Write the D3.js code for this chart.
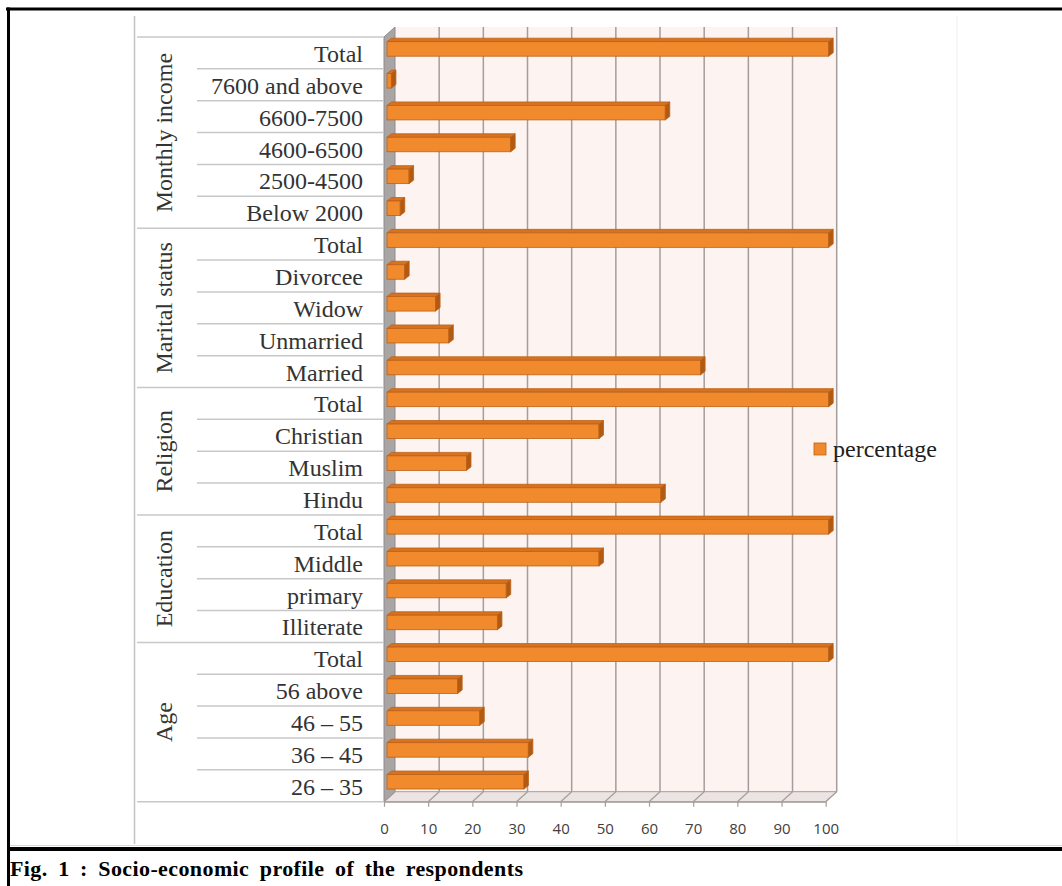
<!DOCTYPE html>
<html>
<head>
<meta charset="utf-8">
<script src="https://cdn.jsdelivr.net/npm/d3@7"></script>
<style>
  html, body { margin: 0; padding: 0; background: #fff; }
  svg { display: block; }
</style>
</head>
<body>
<svg id="chart" width="1062" height="886"></svg>
<script>
// ---------------- data ----------------
const groupNames = ["Monthly income", "Marital status", "Religion", "Education", "Age"];
const incomeLabels = ["Total", "7600 and above", "6600-7500", "4600-6500", "2500-4500", "Below 2000"];
const incomeValues = [100, 1, 63, 28, 5, 3];
const maritalLabels = ["Total", "Divorcee", "Widow", "Unmarried", "Married"];
const maritalValues = [100, 4, 11, 14, 71];
const religionLabels = ["Total", "Christian", "Muslim", "Hindu"];
const religionValues = [100, 48, 18, 62];
const educationLabels = ["Total", "Middle", "primary", "Illiterate"];
const educationValues = [100, 48, 27, 25];
const ageLabels = ["Total", "56 above", "46 \u2013 55", "36 \u2013 45", "26 \u2013 35"];
const ageValues = [100, 16, 21, 32, 31];
const xTicks = [0, 10, 20, 30, 40, 50, 60, 70, 80, 90, 100];
const seriesName = "percentage";
const captionText = "Fig. 1 : Socio-economic profile of the respondents";

const groupLabels = [incomeLabels, maritalLabels, religionLabels, educationLabels, ageLabels];
const groupValues = [incomeValues, maritalValues, religionValues, educationValues, ageValues];

// flat rows (top to bottom)
const rows = [];
groupNames.forEach((g, gi) => {
  groupLabels[gi].forEach((lab, i) => {
    rows.push({ key: g + "|" + lab, group: g, gi, label: lab, value: groupValues[gi][i], first: i === 0, last: i === groupLabels[gi].length - 1 });
  });
});

// ---------------- layout ----------------
const svg = d3.select("#chart");
const W = 1062, H = 886;

const x = d3.scaleLinear().domain([0, 100]).range([384, 825.7]);
const y = d3.scaleBand().domain(rows.map(r => r.key)).range([37, 801.7]).padding(0);
const depthX = 11, depthY = -10;     // 3D depth offset of the back wall
const yTop = 37, yBot = 801.7;

const orange = "#F08A2C", orangeTop = "#D8721E", orangeCap = "#B25A12", orangeStroke = "#BC6118";
const grid = "#A39D9B";

// ---------------- frame ----------------
svg.append("line").attr("x1", 6).attr("x2", W).attr("y1", 9).attr("y2", 9)
  .attr("stroke", "#000").attr("stroke-width", 3);
svg.append("line").attr("x1", 8.5).attr("x2", 8.5).attr("y1", 7.5).attr("y2", H)
  .attr("stroke", "#000").attr("stroke-width", 3);
svg.append("line").attr("x1", 10).attr("x2", W).attr("y1", 845.5).attr("y2", 845.5)
  .attr("stroke", "#d6d6d6").attr("stroke-width", 1);
svg.append("line").attr("x1", 7).attr("x2", W).attr("y1", 849).attr("y2", 849)
  .attr("stroke", "#000").attr("stroke-width", 4);

// chart area borders
svg.append("line").attr("x1", 134.5).attr("x2", 134.5).attr("y1", 16).attr("y2", 844)
  .attr("stroke", "#c4c4c4").attr("stroke-width", 1.5);
svg.append("line").attr("x1", 957).attr("x2", 957).attr("y1", 16).attr("y2", 844)
  .attr("stroke", "#efefef").attr("stroke-width", 1);

// ---------------- 3D walls ----------------
// back wall
svg.append("rect")
  .attr("x", x(0) + depthX).attr("y", yTop + depthY)
  .attr("width", x(100) - x(0)).attr("height", yBot - yTop)
  .attr("fill", "#FDF4F1");

// floor
svg.append("polygon")
  .attr("points", [[x(0), yBot], [x(100), yBot], [x(100) + depthX, yBot + depthY], [x(0) + depthX, yBot + depthY]].map(p => p.join(",")).join(" "))
  .attr("fill", "#ECE4E2").attr("stroke", grid).attr("stroke-width", 1);

// side wall
svg.append("polygon")
  .attr("points", [[x(0), yTop], [x(0) + depthX, yTop + depthY], [x(0) + depthX, yBot + depthY], [x(0), yBot]].map(p => p.join(",")).join(" "))
  .attr("fill", "#A9A5A4").attr("stroke", "#8f8b8a").attr("stroke-width", 1);

// vertical grid lines on back wall
svg.append("g").selectAll("line").data(xTicks.filter(t => t > 0)).join("line")
  .attr("x1", d => x(d) + depthX).attr("x2", d => x(d) + depthX)
  .attr("y1", yTop + depthY).attr("y2", yBot + depthY)
  .attr("stroke", grid).attr("stroke-width", 1.5);

// floor grid lines
svg.append("g").selectAll("line").data(xTicks).join("line")
  .attr("x1", d => x(d)).attr("x2", d => x(d) + depthX)
  .attr("y1", yBot).attr("y2", yBot + depthY)
  .attr("stroke", grid).attr("stroke-width", 1.2);

// front axis ticks + labels
const xAxis = d3.axisBottom(x).tickValues(xTicks).tickSizeInner(5).tickSizeOuter(0).tickPadding(17);
const gx = svg.append("g").attr("transform", `translate(0,${yBot})`).call(xAxis);
gx.select(".domain").attr("stroke", grid).attr("stroke-width", 1.2);
gx.selectAll(".tick line").attr("stroke", grid).attr("stroke-width", 1.2);
gx.selectAll(".tick text").attr("fill", "#404040")
  .style("font-family", "'Open Sans', 'Liberation Sans', sans-serif").style("font-size", "15px");

// ---------------- category axis ----------------
// horizontal separator lines
const lines = [{ y: yTop, x1: 137 }];
rows.forEach(r => {
  lines.push({ y: y(r.key) + y.bandwidth(), x1: r.last ? 137 : 197 });
});
svg.append("g").selectAll("line").data(lines).join("line")
  .attr("x1", d => d.x1).attr("x2", x(0))
  .attr("y1", d => d.y).attr("y2", d => d.y)
  .attr("stroke", "#c8c8c8").attr("stroke-width", 1.5);

// category labels
svg.append("g").selectAll("text").data(rows).join("text")
  .attr("x", 363).attr("y", d => y(d.key) + y.bandwidth() / 2 + 9)
  .attr("text-anchor", "end")
  .attr("fill", "#333")
  .style("font-family", "'Liberation Serif', 'DejaVu Serif', serif").style("font-size", "24px")
  .text(d => d.label);

// group labels (rotated)
svg.append("g").selectAll("text").data(groupNames).join("text")
  .attr("transform", (g) => {
    const gr = rows.filter(r => r.group === g);
    const cy = (y(gr[0].key) + y(gr[gr.length - 1].key) + y.bandwidth()) / 2;
    return `translate(172,${cy}) rotate(-90)`;
  })
  .attr("text-anchor", "middle")
  .attr("fill", "#333")
  .style("font-family", "'Liberation Serif', 'DejaVu Serif', serif").style("font-size", "24px")
  .text(d => d);

// ---------------- 3D bars ----------------
const bOffX = 3, bOffY = -4, bH = 14.5, bDX = 4.5, bDY = -3.5;
const bars = svg.append("g").selectAll("g").data(rows).join("g");
function frontTop(d) { return y(d.key) + y.bandwidth() / 2 + bOffY - bH / 2; }
// top face
bars.append("polygon")
  .attr("points", d => {
    const t = frontTop(d), x0 = x(0) + bOffX, x1 = x(d.value) + bOffX;
    return [[x0, t], [x0 + bDX, t + bDY], [x1 + bDX, t + bDY], [x1, t]].map(p => p.join(",")).join(" ");
  })
  .attr("fill", orangeTop).attr("stroke", orangeStroke).attr("stroke-width", 0.8);
// front face
bars.append("rect")
  .attr("x", x(0) + bOffX).attr("y", d => frontTop(d))
  .attr("width", d => x(d.value) - x(0)).attr("height", bH)
  .attr("fill", orange).attr("stroke", orangeStroke).attr("stroke-width", 0.8);
// right cap
bars.append("polygon")
  .attr("points", d => {
    const t = frontTop(d), x1 = x(d.value) + bOffX;
    return [[x1, t], [x1 + bDX, t + bDY], [x1 + bDX, t + bDY + bH], [x1, t + bH]].map(p => p.join(",")).join(" ");
  })
  .attr("fill", orangeCap).attr("stroke", orangeStroke).attr("stroke-width", 0.8);

// ---------------- legend ----------------
const lg = svg.append("g");
lg.append("rect").attr("x", 814).attr("y", 443).attr("width", 12).attr("height", 12)
  .attr("fill", orange).attr("stroke", orangeStroke).attr("stroke-width", 0.8);
lg.append("text").attr("x", 833).attr("y", 457)
  .attr("fill", "#1e1e1e")
  .style("font-family", "'Liberation Serif', 'DejaVu Serif', serif").style("font-size", "24px")
  .text(seriesName);

// ---------------- caption ----------------
svg.append("text").attr("x", 10).attr("y", 876)
  .attr("fill", "#000")
  .style("font-family", "'Liberation Serif', 'Times New Roman', serif")
  .style("font-size", "22px").style("font-weight", "bold")
  .style("letter-spacing", "0.4px").style("word-spacing", "4.6px")
  .text(captionText);
</script>
</body>
</html>
